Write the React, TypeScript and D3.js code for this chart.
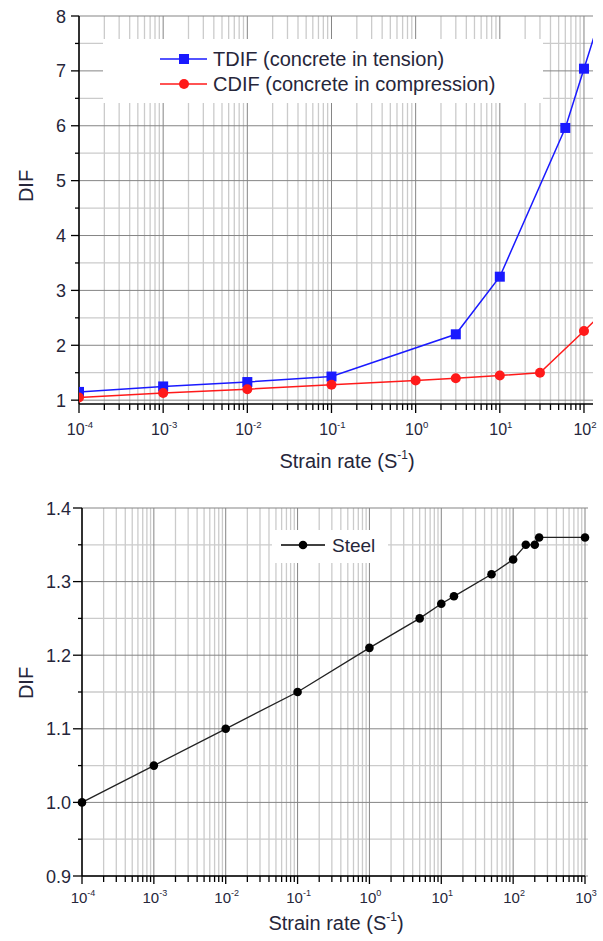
import React from 'react';
import * as d3 from 'd3';

// ---------- Data ----------
const tdifRates = [1e-4, 1e-3, 1e-2, 1e-1, 3, 10, 60, 100, 150];
const tdifValues = [1.15, 1.25, 1.33, 1.43, 2.2, 3.25, 5.96, 7.04, 7.9];
const cdifRates = [1e-4, 1e-3, 1e-2, 1e-1, 1, 3, 10, 30, 100, 150];
const cdifValues = [1.05, 1.13, 1.2, 1.28, 1.36, 1.4, 1.45, 1.5, 2.26, 2.52];
const steelRates = [1e-4, 1e-3, 1e-2, 1e-1, 1, 5, 10, 15, 50, 100, 150, 200, 230, 1000];
const steelValues = [1.0, 1.05, 1.1, 1.15, 1.21, 1.25, 1.27, 1.28, 1.31, 1.33, 1.35, 1.35, 1.36, 1.36];

const topYTicks = [1, 2, 3, 4, 5, 6, 7, 8];
const topYMinor = [1.5, 2.5, 3.5, 4.5, 5.5, 6.5, 7.5];
const topXExponents = [-4, -3, -2, -1, 0, 1, 2];
const bottomYTicks = [0.9, 1.0, 1.1, 1.2, 1.3, 1.4];
const bottomYMinor = [0.95, 1.05, 1.15, 1.25, 1.35];
const bottomXExponents = [-4, -3, -2, -1, 0, 1, 2, 3];

const legendTop = ['TDIF (concrete in tension)', 'CDIF (concrete in compression)'];
const legendBottom = ['Steel'];
const xTitle = 'Strain rate (S';
const yTitle = 'DIF';

const FONT = '"Liberation Sans", Arial, sans-serif';
const TXT = '#26263a';
const MAJ = '#858585';
const MIN = '#cbcbcb';

function minorDecades(exps: number[], maxV: number) {
  const out: number[] = [];
  exps.forEach((e) => {
    for (let k = 2; k <= 9; k++) {
      const v = k * Math.pow(10, e);
      if (v < maxV) out.push(v);
    }
  });
  return out;
}

function XLabel({ x, y, e, size }: { x: number; y: number; e: number; size: number }) {
  return (
    <text x={x} y={y} textAnchor="middle" fontFamily={FONT} fontSize={size} fill={TXT}>
      10
      <tspan fontSize={size * 0.6} dy={-size * 0.45}>{e}</tspan>
    </text>
  );
}

function TopChart() {
  const x = d3.scaleLog().domain([1e-4, 128]).range([79, 593]);
  const y = d3.scaleLinear().domain([0.93, 8]).range([404, 16]);
  const [x0, x1] = x.range();
  const [yb, yt] = y.range();
  const xMinor = minorDecades(topXExponents, 128);
  const line = d3
    .line<[number, number]>()
    .x((d) => x(d[0]))
    .y((d) => y(d[1]));
  const tdif = tdifRates.map((r, i) => [r, tdifValues[i]] as [number, number]);
  const cdif = cdifRates.map((r, i) => [r, cdifValues[i]] as [number, number]);
  const blue = '#1a1aff';
  const red = '#ff1a1a';
  return (
    <g>
      <defs>
        <clipPath id="clipTop">
          <rect x={x0} y={yt - 2} width={x1 - x0} height={yb - yt + 2} />
        </clipPath>
      </defs>
      {/* minor grid */}
      {xMinor.map((v, i) => (
        <line key={'vm' + i} x1={x(v)} x2={x(v)} y1={yt} y2={yb} stroke={MIN} strokeWidth={1.3} />
      ))}
      {topYMinor.map((v, i) => (
        <line key={'hm' + i} x1={x0} x2={x1} y1={y(v)} y2={y(v)} stroke={MIN} strokeWidth={1.3} />
      ))}
      {/* major grid */}
      {topXExponents.map((e) => (
        <line key={'vM' + e} x1={x(Math.pow(10, e))} x2={x(Math.pow(10, e))} y1={yt} y2={yb} stroke={MAJ} strokeWidth={1} />
      ))}
      {topYTicks.map((v) => (
        <line key={'hM' + v} x1={x0} x2={x1} y1={y(v)} y2={y(v)} stroke={MAJ} strokeWidth={1} />
      ))}
      {/* legend background */}
      <rect x={103} y={39} width={440} height={64} fill="#fff" />
      {/* axes */}
      <line x1={x0} x2={x0} y1={yt} y2={yb} stroke="#000" strokeWidth={1.5} />
      <line x1={x0} x2={x1} y1={yb} y2={yb} stroke="#000" strokeWidth={1.5} />
      {topYTicks.map((v) => (
        <g key={'yt' + v}>
          <line x1={x0 - 8} x2={x0} y1={y(v)} y2={y(v)} stroke="#000" strokeWidth={1.3} />
          <text x={x0 - 13} y={y(v) + 6.5} textAnchor="end" fontFamily={FONT} fontSize={18} fill={TXT}>
            {v}
          </text>
        </g>
      ))}
      {topYMinor.map((v) => (
        <line key={'ytm' + v} x1={x0 - 4} x2={x0} y1={y(v)} y2={y(v)} stroke="#000" strokeWidth={1.3} />
      ))}
      {topXExponents.map((e) => (
        <g key={'xt' + e}>
          <line x1={x(Math.pow(10, e))} x2={x(Math.pow(10, e))} y1={yb} y2={yb + 9} stroke="#000" strokeWidth={1.3} />
          <XLabel x={x(Math.pow(10, e)) + 1} y={435} e={e} size={16} />
        </g>
      ))}
      {xMinor.map((v, i) => (
        <line key={'xtm' + i} x1={x(v)} x2={x(v)} y1={yb} y2={yb + 6} stroke="#000" strokeWidth={1.3} />
      ))}
      <text x={347} y={468} textAnchor="middle" fontFamily={FONT} fontSize={20} fill={TXT}>
        {xTitle}
        <tspan fontSize={12} dy={-9}>-1</tspan>
        <tspan dy={9}>)</tspan>
      </text>
      <text
        transform="translate(33,186) rotate(-90)"
        textAnchor="middle"
        fontFamily={FONT}
        fontSize={20}
        fill={TXT}
      >
        {yTitle}
      </text>
      {/* data */}
      <g clipPath="url(#clipTop)">
        <path d={line(tdif) || ''} fill="none" stroke={blue} strokeWidth={1.5} />
        <path d={line(cdif) || ''} fill="none" stroke={red} strokeWidth={1.5} />
        {tdif.map((d, i) => (
          <rect key={'tq' + i} x={x(d[0]) - 5} y={y(d[1]) - 5} width={10} height={10} fill={blue} />
        ))}
        {cdif.map((d, i) => (
          <circle key={'cc' + i} cx={x(d[0])} cy={y(d[1])} r={5} fill={red} />
        ))}
      </g>
      {/* legend */}
      <line x1={160} x2={207} y1={59} y2={59} stroke={blue} strokeWidth={1.5} />
      <rect x={179} y={54} width={10} height={10} fill={blue} />
      <text x={213} y={66} fontFamily={FONT} fontSize={20} fill={TXT}>
        {legendTop[0]}
      </text>
      <line x1={160} x2={207} y1={84} y2={84} stroke={red} strokeWidth={1.5} />
      <circle cx={184} cy={84} r={5} fill={red} />
      <text x={213} y={91} fontFamily={FONT} fontSize={20} fill={TXT}>
        {legendTop[1]}
      </text>
    </g>
  );
}

function BottomChart() {
  const x = d3.scaleLog().domain([1e-4, 1e3]).range([82, 585]);
  const y = d3.scaleLinear().domain([0.9, 1.4]).range([876, 508]);
  const [x0, x1] = x.range();
  const [yb, yt] = y.range();
  const xMinor = minorDecades(bottomXExponents.slice(0, -1), 1000);
  const line = d3
    .line<[number, number]>()
    .x((d) => x(d[0]))
    .y((d) => y(d[1]));
  const steel = steelRates.map((r, i) => [r, steelValues[i]] as [number, number]);
  return (
    <g>
      {xMinor.map((v, i) => (
        <line key={'vm' + i} x1={x(v)} x2={x(v)} y1={yt} y2={yb} stroke={MIN} strokeWidth={1.3} />
      ))}
      {bottomYMinor.map((v, i) => (
        <line key={'hm' + i} x1={x0} x2={x1 + 3} y1={y(v)} y2={y(v)} stroke={MIN} strokeWidth={1.3} />
      ))}
      {bottomXExponents.map((e) => (
        <line key={'vM' + e} x1={x(Math.pow(10, e))} x2={x(Math.pow(10, e))} y1={yt} y2={yb} stroke={MAJ} strokeWidth={1} />
      ))}
      {bottomYTicks.map((v) => (
        <line key={'hM' + v} x1={x0} x2={x1 + 3} y1={y(v)} y2={y(v)} stroke={MAJ} strokeWidth={1} />
      ))}
      <rect x={272} y={530} width={116} height={33} fill="#fff" />
      <line x1={x0} x2={x0} y1={yt} y2={yb} stroke="#000" strokeWidth={1.5} />
      <line x1={x0} x2={x1} y1={yb} y2={yb} stroke="#000" strokeWidth={1.5} />
      {bottomYTicks.map((v) => (
        <g key={'yt' + v}>
          <line x1={x0 - 9} x2={x0} y1={y(v)} y2={y(v)} stroke="#000" strokeWidth={1.3} />
          <text x={x0 - 11} y={y(v) + 6.5} textAnchor="end" fontFamily={FONT} fontSize={18} fill={TXT}>
            {v.toFixed(1)}
          </text>
        </g>
      ))}
      {bottomYMinor.map((v) => (
        <line key={'ytm' + v} x1={x0 - 4} x2={x0} y1={y(v)} y2={y(v)} stroke="#000" strokeWidth={1.3} />
      ))}
      {bottomXExponents.map((e) => (
        <g key={'xt' + e}>
          <line x1={x(Math.pow(10, e))} x2={x(Math.pow(10, e))} y1={yb} y2={yb + 8} stroke="#000" strokeWidth={1.3} />
          <XLabel x={x(Math.pow(10, e)) + 1} y={903} e={e} size={15} />
        </g>
      ))}
      {xMinor.map((v, i) => (
        <line key={'xtm' + i} x1={x(v)} x2={x(v)} y1={yb} y2={yb + 6} stroke="#000" strokeWidth={1.3} />
      ))}
      <text x={336} y={930} textAnchor="middle" fontFamily={FONT} fontSize={20} fill={TXT}>
        {xTitle}
        <tspan fontSize={12} dy={-9}>-1</tspan>
        <tspan dy={9}>)</tspan>
      </text>
      <text
        transform="translate(33,683) rotate(-90)"
        textAnchor="middle"
        fontFamily={FONT}
        fontSize={20}
        fill={TXT}
      >
        {yTitle}
      </text>
      <path d={line(steel) || ''} fill="none" stroke="#222" strokeWidth={1.3} />
      {steel.map((d, i) => (
        <circle key={'s' + i} cx={x(d[0])} cy={y(d[1])} r={4.3} fill="#000" />
      ))}
      <line x1={281} x2={325} y1={545} y2={545} stroke="#000" strokeWidth={1.3} />
      <circle cx={303} cy={545} r={4.3} fill="#000" />
      <text x={332} y={552} fontFamily={FONT} fontSize={19} fill={TXT}>
        {legendBottom[0]}
      </text>
    </g>
  );
}

export default function App() {
  return (
    <svg width={603} height={941} style={{ position: 'absolute', left: 0, top: 0, background: '#fff' }}>
      <rect width={603} height={941} fill="#fff" />
      <TopChart />
      <BottomChart />
    </svg>
  );
}
